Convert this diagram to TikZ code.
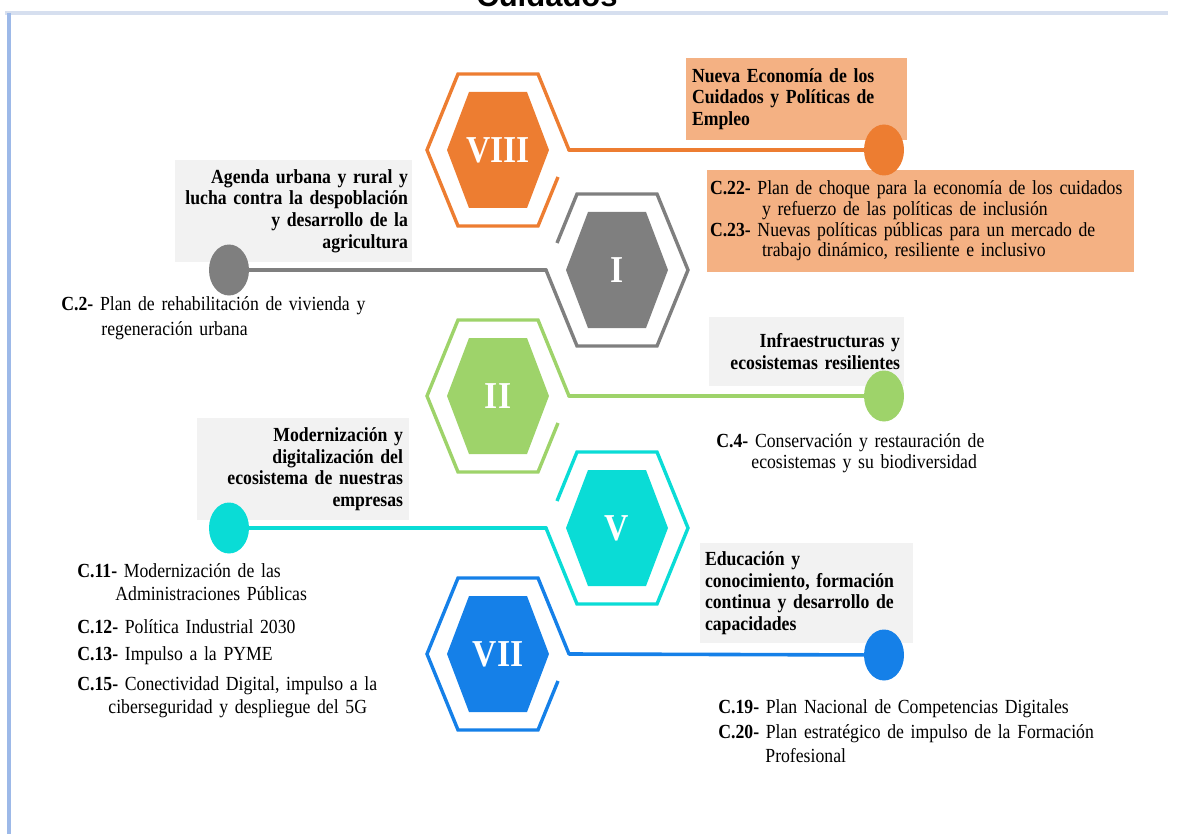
\documentclass[tikz,border=0pt]{standalone}
\usepackage{fontspec}
\setmainfont{Liberation Serif}[FakeStretch=0.885]
\newfontfamily\titlefont{Liberation Sans}
\usetikzlibrary{shapes.geometric}
\hyphenpenalty=10000

\definecolor{ecoorange}{HTML}{ED7D31}
\definecolor{ecogray}{HTML}{7F7F7F}
\definecolor{ecogreen}{HTML}{9ED36A}
\definecolor{ecocyan}{HTML}{0ADCD6}
\definecolor{ecoblue}{HTML}{1580E8}
\definecolor{boxorange}{HTML}{F4B183}
\definecolor{boxgray}{HTML}{F2F2F2}
\definecolor{frameblue}{HTML}{9DB9E8}
\definecolor{rulegray}{HTML}{D6DFEF}

\tikzset{
  hexline/.style={line width=1.7pt, line join=miter},
  link/.style={line width=1.8pt, line cap=round},
  enddot/.style={ellipse, fill=#1, minimum width=20pt, minimum height=25.5pt, inner sep=0pt},
  numeral/.style={text=white, font=\bfseries\fontsize{19}{19}\selectfont},
  headbox/.style={fill=boxgray, font=\bfseries\fontsize{10}{10.8}\selectfont, inner ysep=0pt},
  itemtext/.style={font=\fontsize{10}{11.5}\selectfont, inner sep=0pt, text width=260pt, align=left, anchor=base west},
}

\begin{document}
\begin{tikzpicture}[x=0.5pt,y=-0.5pt]
    \clip (0,0) rectangle (1177,834);
    % page frame and cut title
    \draw[rulegray, line width=1.6pt] (5,13) -- (1168,13);
    \draw[frameblue, line width=2pt] (9,13) -- (9,834);
    \node[font=\titlefont\bfseries\fontsize{15.5}{15.5}\selectfont, anchor=base] (title) at (547,7) {Cuidados};

    % VIII - cuidados y empleo
    \node[headbox, fill=boxorange, text width=104.5pt, inner xsep=3pt, minimum height=41pt, align=left] (head8) at (796.5,99)
        {Nueva Economía de los\\ Cuidados y Políticas de\\ Empleo};
    \node[fill=boxorange, font=\fontsize{10}{10.3}\selectfont, text width=210.5pt, inner xsep=1.5pt, inner ysep=0pt, minimum height=51pt, align=left] (list8) at (920.5,221)
        {\textbf{C.22-} Plan de choque para la economía de los cuidados\\
         \hspace*{26pt}y refuerzo de las políticas de inclusión\\
         \textbf{C.23-} Nuevas políticas públicas para un mercado de\\
         \hspace*{26pt}trabajo dinámico, resiliente e inclusivo};
    \draw[hexline, ecoorange] (558,177) -- (538,226) -- (458,226) -- (427,150) -- (458,74) -- (538,74) -- (569,150) coordinate (v8);
    \fill[ecoorange] (447,150) -- (469,92) -- (527,92) -- (549,150) -- (527,208) -- (469,208) -- cycle;
    \node[numeral] (n8) at (498,150) {VIII};
    \node[enddot=ecoorange] (d8) at (884,150) {};
    \draw[link, ecoorange] (v8) -- (d8);

    % I - agenda urbana
    \node[headbox, text width=114.5pt, inner xsep=2pt, minimum height=51pt, align=right] (head1) at (293.5,211)
        {Agenda urbana y rural y\\ lucha contra la despoblación\\ y desarrollo de la\\ agricultura};
    \draw[hexline, ecogray] (557,243) -- (577,194) -- (657,194) -- (688,270) -- (657,346) -- (577,346) -- (546,270) coordinate (v1);
    \fill[ecogray] (566,270) -- (588,212) -- (646,212) -- (668,270) -- (646,328) -- (588,328) -- cycle;
    \node[numeral] (n1) at (617,270) {I};
    \node[enddot=ecogray] (d1) at (229,270) {};
    \draw[link, ecogray] (v1) -- (d1);
    \node[itemtext] (list1) at (61,310)
        {\textbf{C.2-} Plan de rehabilitación de vivienda y\\[1pt]
         \hspace*{20pt}regeneración urbana};

    % II - infraestructuras
    \node[headbox, text width=93.5pt, inner xsep=2pt, minimum height=34.5pt, align=right] (head2) at (806.5,351.5)
        {Infraestructuras y\\ ecosistemas resilientes};
    \draw[hexline, ecogreen] (558,423) -- (538,472) -- (458,472) -- (427,396) -- (458,320) -- (538,320) -- (569,396) coordinate (v2);
    \fill[ecogreen] (447,396) -- (469,338) -- (527,338) -- (549,396) -- (527,454) -- (469,454) -- cycle;
    \node[numeral] (n2) at (498,396) {II};
    \node[enddot=ecogreen] (d2) at (884,396) {};
    \draw[link, ecogreen] (v2) -- (d2);
    \node[itemtext] (list2) at (716,447)
        {\textbf{C.4-} Conservación y restauración de\\[-1pt]
         \hspace*{17.5pt}ecosistemas y su biodiversidad};

    % V - modernizacion y digitalizacion
    \node[headbox, text width=100pt, inner xsep=3pt, minimum height=51pt, align=right] (head5) at (303,469)
        {Modernización y\\ digitalización del\\ ecosistema de nuestras\\ empresas};
    \draw[hexline, ecocyan] (557,501) -- (577,452) -- (657,452) -- (688,528) -- (657,604) -- (577,604) -- (546,528) coordinate (v5);
    \fill[ecocyan] (566,528) -- (588,470) -- (646,470) -- (668,528) -- (646,586) -- (588,586) -- cycle;
    \node[numeral] (n5) at (617,528) {V};
    \node[enddot=ecocyan] (d5) at (229,528) {};
    \draw[link, ecocyan] (v5) -- (d5);
    \node[itemtext] (list5) at (77,577)
        {\textbf{C.11-} Modernización de las\\[0pt]
         \hspace*{19pt}Administraciones Públicas\\[5pt]
         \textbf{C.12-} Política Industrial 2030\\[2pt]
         \textbf{C.13-} Impulso a la PYME\\[3.5pt]
         \textbf{C.15-} Conectividad Digital, impulso a la\\[0pt]
         \hspace*{15.5pt}ciberseguridad y despliegue del 5G};

    % VII - educacion
    \node[headbox, text width=101.5pt, inner xsep=2.5pt, minimum height=50pt, align=left] (head7) at (806.5,593)
        {Educación y\\ conocimiento, formación\\ continua y desarrollo de\\ capacidades};
    \draw[hexline, ecoblue] (558,681) -- (538,730) -- (458,730) -- (427,654) -- (458,578) -- (538,578) -- (569,654) coordinate (v7);
    \fill[ecoblue] (447,654) -- (469,596) -- (527,596) -- (549,654) -- (527,712) -- (469,712) -- cycle;
    \node[numeral] (n7) at (498,654) {VII};
    \node[enddot=ecoblue] (d7) at (884,655) {};
    \draw[link, ecoblue] (v7) -- (d7);
    \node[itemtext] (list7) at (718,713)
        {\textbf{C.19-} Plan Nacional de Competencias Digitales\\[1pt]
         \textbf{C.20-} Plan estratégico de impulso de la Formación\\[0.5pt]
         \hspace*{23.5pt}Profesional};
\end{tikzpicture}
\end{document}
